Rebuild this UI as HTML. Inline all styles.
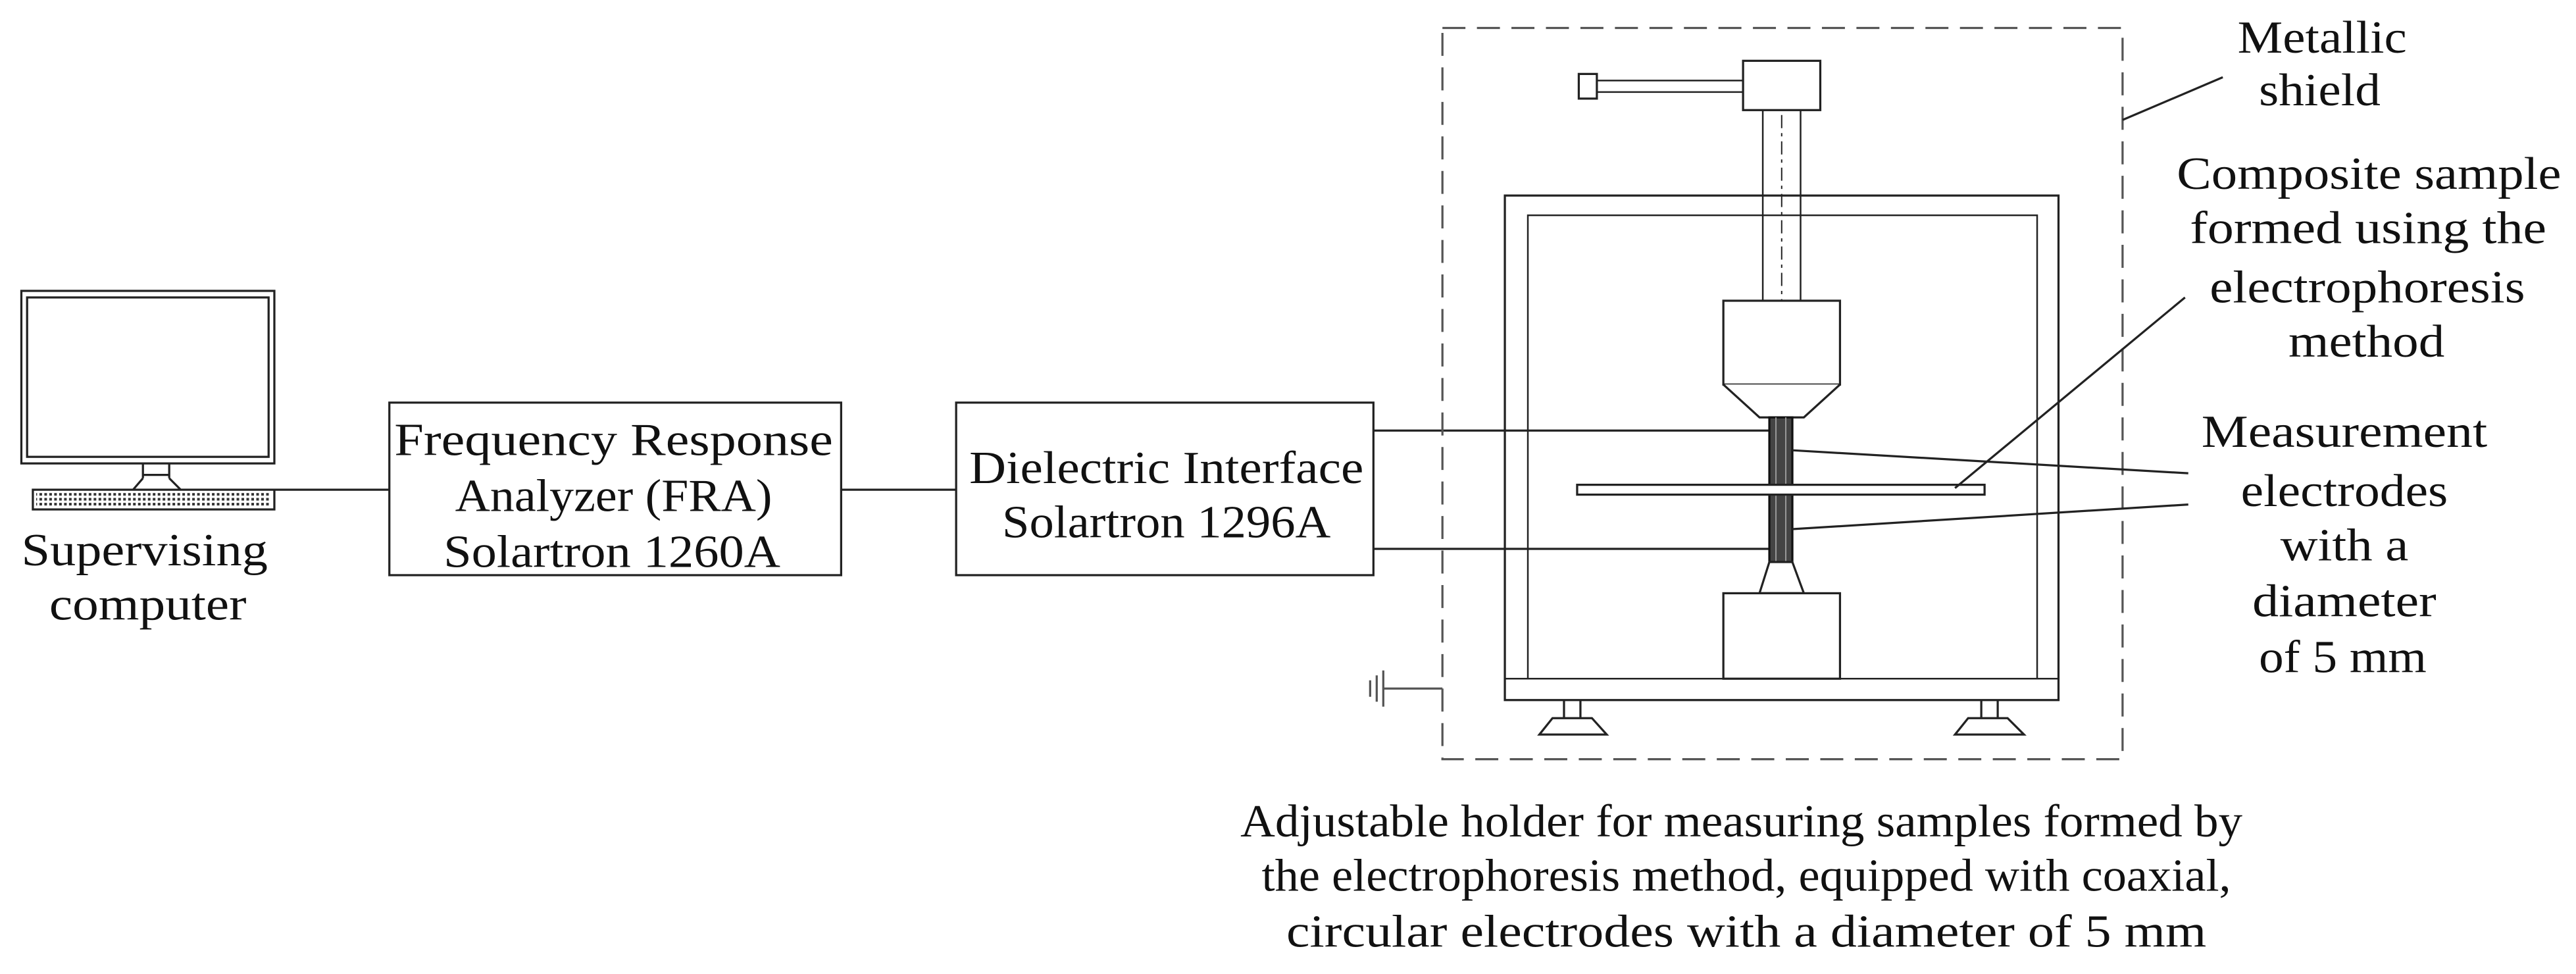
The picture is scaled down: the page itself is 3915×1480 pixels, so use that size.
<!DOCTYPE html>
<html><head><meta charset="utf-8"><style>html,body{margin:0;padding:0;background:#fff}svg{display:block}</style></head>
<body>
<svg width="3915" height="1480" viewBox="0 0 1568 592.7" preserveAspectRatio="none" xmlns="http://www.w3.org/2000/svg">
<defs>
<pattern id="kb" width="3" height="3" patternUnits="userSpaceOnUse"><rect width="3" height="3" fill="#fff"/><rect width="1.6" height="1.6" fill="#333"/></pattern>
</defs>
<g fill="none" stroke="#222" stroke-width="1.3">
<!-- computer -->
<rect x="13" y="177" width="154" height="105"/>
<rect x="16.5" y="181" width="147" height="97"/>
<path d="M87 282 V291 M103 282 V291 M87 291 L81 298 M103 291 L110 298 M87 289 H103"/>
<rect x="20" y="298" width="147" height="12"/>
<rect x="22" y="300" width="143" height="8" fill="url(#kb)" stroke="none"/>
<line x1="167" y1="298" x2="237" y2="298"/>
<!-- boxes -->
<rect x="237" y="245" width="275" height="105"/>
<line x1="512" y1="298" x2="582" y2="298"/>
<rect x="582" y="245" width="254" height="105"/>
<!-- wires -->
<line x1="836" y1="262" x2="1077" y2="262"/>
<line x1="836" y1="334" x2="1077" y2="334"/>
<!-- shield -->
<rect x="878" y="17" width="414" height="445" stroke="#555" stroke-dasharray="14 7"/>
<line x1="1292" y1="73" x2="1353" y2="47"/>
<!-- ground -->
<path d="M842 419 H878 M842 408 V430 M838 411 V427 M834 414 V424" stroke="#555"/>
<!-- frame -->
<path d="M916 119 H1253 V426 H916 Z" />
<path d="M930 413 V131 H1240 V413 M916 413 H1253" stroke-width="1"/>
<!-- top handle -->
<rect x="1061" y="37" width="47" height="30"/>
<rect x="961" y="45" width="11" height="15"/>
<path d="M972 49 H1061 M972 56 H1061" stroke-width="1"/>
<!-- column -->
<path d="M1073 67 V183 M1096 67 V183" stroke-width="1"/>
<line x1="1084.5" y1="70" x2="1084.5" y2="183" stroke-width="0.8" stroke-dasharray="8 3 2 3"/>
<rect x="1049" y="183" width="71" height="51" fill="#fff"/>
<path d="M1049 234 L1071 254 H1098 L1120 234" fill="#fff"/>
<rect x="1077" y="254" width="14" height="88" fill="#444" stroke="#111"/>
<path d="M1081 254 V342 M1087 254 V342" stroke="#999" stroke-width="0.8"/>
<path d="M1071 361 L1077 342 H1091 L1098 361 Z" fill="#fff"/>
<rect x="1049" y="361" width="71" height="52" fill="#fff"/>
<rect x="960" y="295" width="248" height="6" fill="#fff"/>
<!-- feet -->
<path d="M952 426 V437 M962 426 V437 M937 447 L945 437 H969 L978 447 Z"/>
<path d="M1206 426 V437 M1216 426 V437 M1190 447 L1198 437 H1222 L1232 447 Z"/>
<!-- leaders -->
<line x1="1091" y1="274" x2="1332" y2="288"/>
<line x1="1091" y1="322" x2="1332" y2="307"/>
<line x1="1190" y1="297" x2="1330" y2="181"/>
</g>
<g font-family="'Liberation Serif', serif" font-size="28" fill="#111" lengthAdjust="spacingAndGlyphs">
<text x="13" y="344" textLength="150" lengthAdjust="spacingAndGlyphs">Supervising</text>
<text x="30" y="377" textLength="120" lengthAdjust="spacingAndGlyphs">computer</text>
<text x="240" y="277" textLength="267" lengthAdjust="spacingAndGlyphs">Frequency Response</text>
<text x="277" y="311" textLength="193" lengthAdjust="spacingAndGlyphs">Analyzer (FRA)</text>
<text x="270" y="345" textLength="205" lengthAdjust="spacingAndGlyphs">Solartron 1260A</text>
<text x="590" y="294" textLength="240" lengthAdjust="spacingAndGlyphs">Dielectric Interface</text>
<text x="610" y="327" textLength="200" lengthAdjust="spacingAndGlyphs">Solartron 1296A</text>
<text x="1362" y="32" textLength="103" lengthAdjust="spacingAndGlyphs">Metallic</text>
<text x="1375" y="64" textLength="74" lengthAdjust="spacingAndGlyphs">shield</text>
<text x="1325" y="115" textLength="234" lengthAdjust="spacingAndGlyphs">Composite sample</text>
<text x="1333" y="148" textLength="217" lengthAdjust="spacingAndGlyphs">formed using the</text>
<text x="1345" y="184" textLength="192" lengthAdjust="spacingAndGlyphs">electrophoresis</text>
<text x="1393" y="217" textLength="95" lengthAdjust="spacingAndGlyphs">method</text>
<text x="1340" y="272" textLength="174" lengthAdjust="spacingAndGlyphs">Measurement</text>
<text x="1364" y="308" textLength="126" lengthAdjust="spacingAndGlyphs">electrodes</text>
<text x="1388" y="341" textLength="78" lengthAdjust="spacingAndGlyphs">with a</text>
<text x="1371" y="375" textLength="112" lengthAdjust="spacingAndGlyphs">diameter</text>
<text x="1375" y="409" textLength="102" lengthAdjust="spacingAndGlyphs">of 5 mm</text>
<text x="755" y="509" textLength="610" lengthAdjust="spacingAndGlyphs">Adjustable holder for measuring samples formed by</text>
<text x="768" y="542" textLength="590" lengthAdjust="spacingAndGlyphs">the electrophoresis method, equipped with coaxial,</text>
<text x="783" y="576" textLength="560" lengthAdjust="spacingAndGlyphs">circular electrodes with a diameter of 5 mm</text>
</g>
</svg>
</body></html>
